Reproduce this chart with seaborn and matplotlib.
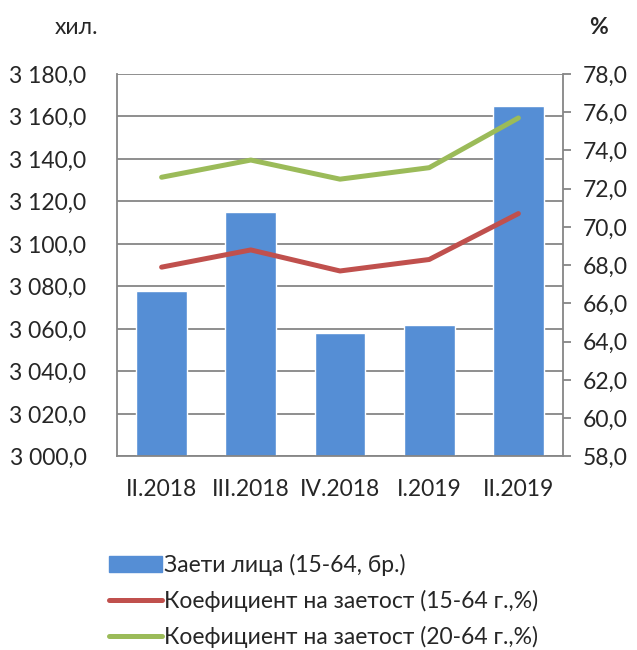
import numpy as np
import pandas as pd
import seaborn as sns
import matplotlib.pyplot as plt
from matplotlib.ticker import FuncFormatter, MultipleLocator
from matplotlib.patches import Patch
from matplotlib.lines import Line2D

quarters = ['II.2018', 'III.2018', 'IV.2018', 'I.2019', 'II.2019']
employed = [3078, 3115, 3058, 3062, 3165]
rate_15_64 = [67.9, 68.8, 67.7, 68.3, 70.7]
rate_20_64 = [72.6, 73.5, 72.5, 73.1, 75.7]

label_bar = 'Заети лица (15-64, бр.)'
label_red = 'Коефициент на заетост (15-64 г.,%)'
label_green = 'Коефициент на заетост (20-64 г.,%)'

c_bar = '#558ED5'
c_red = '#C0504D'
c_green = '#9BBB59'
c_grid = '#868686'

sns.set_style('white')
plt.rcParams['font.family'] = ['Lato', 'DejaVu Sans']
fs = 16.5
lw = 3.6

df = pd.DataFrame({'q': quarters, 'emp': employed, 'r1': rate_15_64, 'r2': rate_20_64})

fig = plt.figure(figsize=(6.37, 6.5), dpi=100)
ax = fig.add_axes([0.1837, 0.2977, 0.7001, 0.5885])

sns.barplot(data=df, x='q', y='emp', color=c_bar, saturation=1, width=0.57, ax=ax, zorder=2)
ax.set_ylim(3000, 3180)
ax.yaxis.set_major_locator(MultipleLocator(20))
ax.yaxis.set_major_formatter(FuncFormatter(lambda v, p: f'{v:,.1f}'.replace(',', ' ').replace('.', ',')))
ax.grid(axis='y', color=c_grid, lw=1.3, zorder=0)
ax.set_axisbelow(True)
ax.set_xlabel('')
ax.set_ylabel('')
for s in ['left', 'bottom']:
    ax.spines[s].set_color(c_grid)
    ax.spines[s].set_linewidth(1.3)
ax.spines['top'].set_visible(False)
ax.spines['right'].set_visible(False)
ax.tick_params(axis='y', length=0, pad=22, labelsize=fs)
ax.tick_params(axis='x', length=0, pad=16, labelsize=fs)

ax2 = ax.twinx()
sns.lineplot(data=df, x='q', y='r1', color=c_red, lw=lw, ax=ax2, solid_capstyle='round')
sns.lineplot(data=df, x='q', y='r2', color=c_green, lw=lw, ax=ax2, solid_capstyle='round')
ax2.set_ylim(58, 78)
ax2.yaxis.set_major_locator(MultipleLocator(2))
ax2.yaxis.set_major_formatter(FuncFormatter(lambda v, p: f'{v:.1f}'.replace('.', ',')))
ax2.set_ylabel('')
ax2.set_xlabel('')
for s in ['left', 'top', 'bottom']:
    ax2.spines[s].set_visible(False)
ax2.spines['right'].set_color(c_grid)
ax2.spines['right'].set_linewidth(1.3)
ax2.tick_params(axis='y', length=6, width=1.3, color=c_grid, pad=8, labelsize=fs)
ax.set_xlim(-0.5, 4.5)

fig.text(0.086, 0.958, 'хил.', fontsize=fs, va='center', ha='left')
fig.text(0.925, 0.958, '%', fontsize=fs, va='center', ha='left', fontweight='bold')

handles = [Patch(color=c_bar), Line2D([], [], color=c_red, lw=lw, solid_capstyle='round'),
           Line2D([], [], color=c_green, lw=lw, solid_capstyle='round')]
fig.legend(handles, [label_bar, label_red, label_green], loc='upper left',
           bbox_to_anchor=(0.153, 0.166), frameon=False, fontsize=fs,
           handlelength=2.3, handletextpad=0.1, labelspacing=0.62, borderpad=0)

fig.savefig('out.png', dpi=100)
